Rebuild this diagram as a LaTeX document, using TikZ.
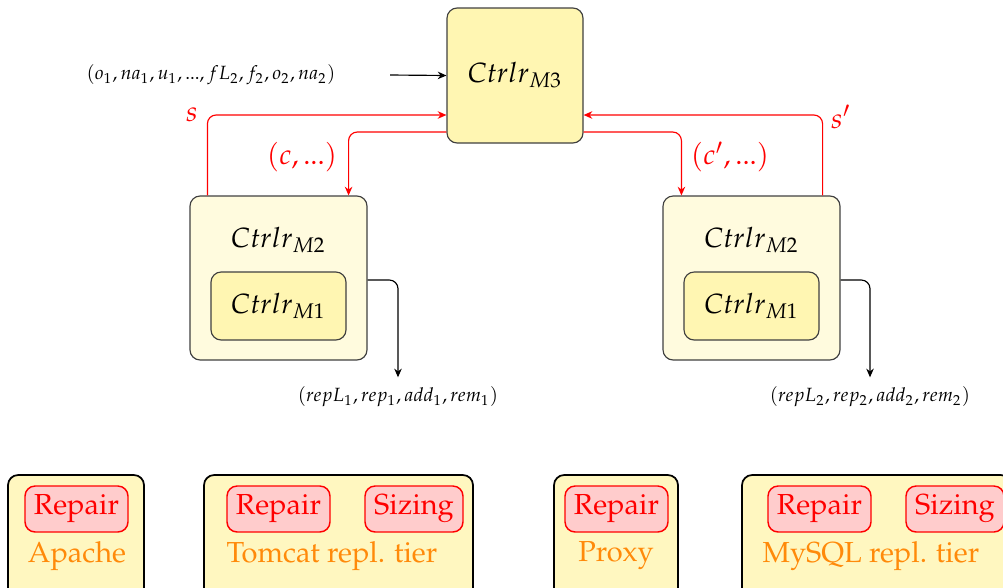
\documentclass[tikz,border=0pt]{standalone}
\usepackage[T1]{fontenc}
\usepackage{mathpazo}
\usepackage{xcolor}
\usetikzlibrary{positioning, arrows.meta}

\newlength{\pu}
\setlength{\pu}{0.345pt}

\definecolor{ctrlfill}{RGB}{255,246,178}
\definecolor{outerfill}{RGB}{255,251,222}
\definecolor{tierfill}{RGB}{255,247,192}
\definecolor{repairfill}{RGB}{255,204,204}
\definecolor{tierorange}{RGB}{255,138,10}

\tikzset{
	ctrlbox/.style={draw=black!75, fill=ctrlfill, rounded corners=3.5pt, line width=0.4pt},
	outerbox/.style={ctrlbox, fill=outerfill},
	tierbox/.style={draw=black, fill=tierfill, rounded corners=3.5pt, line width=0.6pt},
	repairbox/.style={draw=red, fill=repairfill, text=red, rounded corners=3.5pt, line width=0.5pt, minimum height=46\pu, inner sep=0pt},
	tiername/.style={text=tierorange, inner sep=0pt},
	sig/.style={draw=red, rounded corners=3pt, -{Stealth[length=3pt, width=2.6pt]}},
	sigtext/.style={text=red, font=\fontsize{9.8}{12}\selectfont, inner sep=0pt},
	flow/.style={draw=black, rounded corners=3pt, -{Stealth[length=3pt, width=2.6pt]}},
	ctrltext/.style={font=\fontsize{9.6}{12}\selectfont},
	smalltext/.style={font=\fontsize{6.6}{8}\selectfont, inner sep=0pt}
}

\begin{document}
\begin{tikzpicture}[x=\pu, y=-\pu]
	\useasboundingbox (0,0) rectangle (1003,587);
	% Controllers:
	\node[ctrlbox, ctrltext, minimum width=136\pu, minimum height=135\pu] (m3) at (515,75.5){$Ctrlr_{M3}$};
	\node[outerbox, minimum width=177\pu, minimum height=164\pu] (m2l) at (278.5,278){};
	\node[ctrltext, inner sep=0pt] (m2ltext) at (278.5,240){$Ctrlr_{M2}$};
	\node[ctrlbox, ctrltext, minimum width=135\pu, minimum height=68\pu] (m1l) at (278.5,306){$Ctrlr_{M1}$};
	\node[outerbox, minimum width=177\pu, minimum height=164\pu] (m2r) at (751.5,278){};
	\node[ctrltext, inner sep=0pt] (m2rtext) at (751.5,240){$Ctrlr_{M2}$};
	\node[ctrlbox, ctrltext, minimum width=135\pu, minimum height=68\pu] (m1r) at (751.5,306){$Ctrlr_{M1}$};
	% Inputs and outputs:
	\node[smalltext] (inp) at (211,75){$(o_1, na_1, u_1, ..., fL_2, f_2, o_2, na_2)$};
	\coordinate (inpstart) at (390,75);
	\draw[flow] (inpstart) -- (m3.west);
	\node[smalltext] (outl) at (398,397){$(repL_1, rep_1, add_1, rem_1)$};
	\node[smalltext] (outr) at (870,397){$(repL_2, rep_2, add_2, rem_2)$};
	\draw[flow] ([yshift=-2\pu]m2l.east) -| ([yshift=9\pu]outl.north);
	\draw[flow] ([yshift=-2\pu]m2r.east) -| ([yshift=9\pu]outr.north);
	% Red signals:
	\draw[sig] ([xshift=18\pu]m2l.north west) |- ([yshift=-39.5\pu]m3.west);
	\draw[sig] ([yshift=-56.5\pu]m3.west) -| ([xshift=-19\pu]m2l.north east);
	\draw[sig] ([xshift=-18\pu]m2r.north east) |- ([yshift=-39.5\pu]m3.east);
	\draw[sig] ([yshift=-56.5\pu]m3.east) -| ([xshift=19\pu]m2r.north west);
	\node[sigtext] (sl) at (192,115){$s$};
	\node[sigtext] (cl) at (302,157){$(c, ...)$};
	\node[sigtext] (sr) at (841,117){$s'$};
	\node[sigtext] (cr) at (730,157){$(c', ...)$};
	% Tiers:
	\node[tierbox, minimum width=136\pu, minimum height=150\pu] (apache) at (76,550){};
	\node[repairbox, minimum width=103\pu] (apacherep) at (76.5,509){Repair};
	\node[tiername] (apachename) at (77,556){Apache};
	\node[tierbox, minimum width=269\pu, minimum height=150\pu] (tomcat) at (338.5,550){};
	\node[repairbox, minimum width=103\pu] (tomcatrep) at (278.5,509){Repair};
	\node[repairbox, minimum width=98\pu] (tomcatsiz) at (414,509){Sizing};
	\node[tiername, anchor=west] (tomcatname) at (226,556){Tomcat repl. tier};
	\node[tierbox, minimum width=124\pu, minimum height=150\pu] (proxy) at (616,550){};
	\node[repairbox, minimum width=103\pu] (proxyrep) at (616.5,509){Repair};
	\node[tiername] (proxyname) at (616,556){Proxy};
	\node[tierbox, minimum width=269\pu, minimum height=150\pu] (mysql) at (876.5,550){};
	\node[repairbox, minimum width=103\pu] (mysqlrep) at (819.5,509){Repair};
	\node[repairbox, minimum width=98\pu] (mysqlsiz) at (955,509){Sizing};
	\node[tiername, anchor=west] (mysqlname) at (762,556){MySQL repl. tier};
\end{tikzpicture}
\end{document}
